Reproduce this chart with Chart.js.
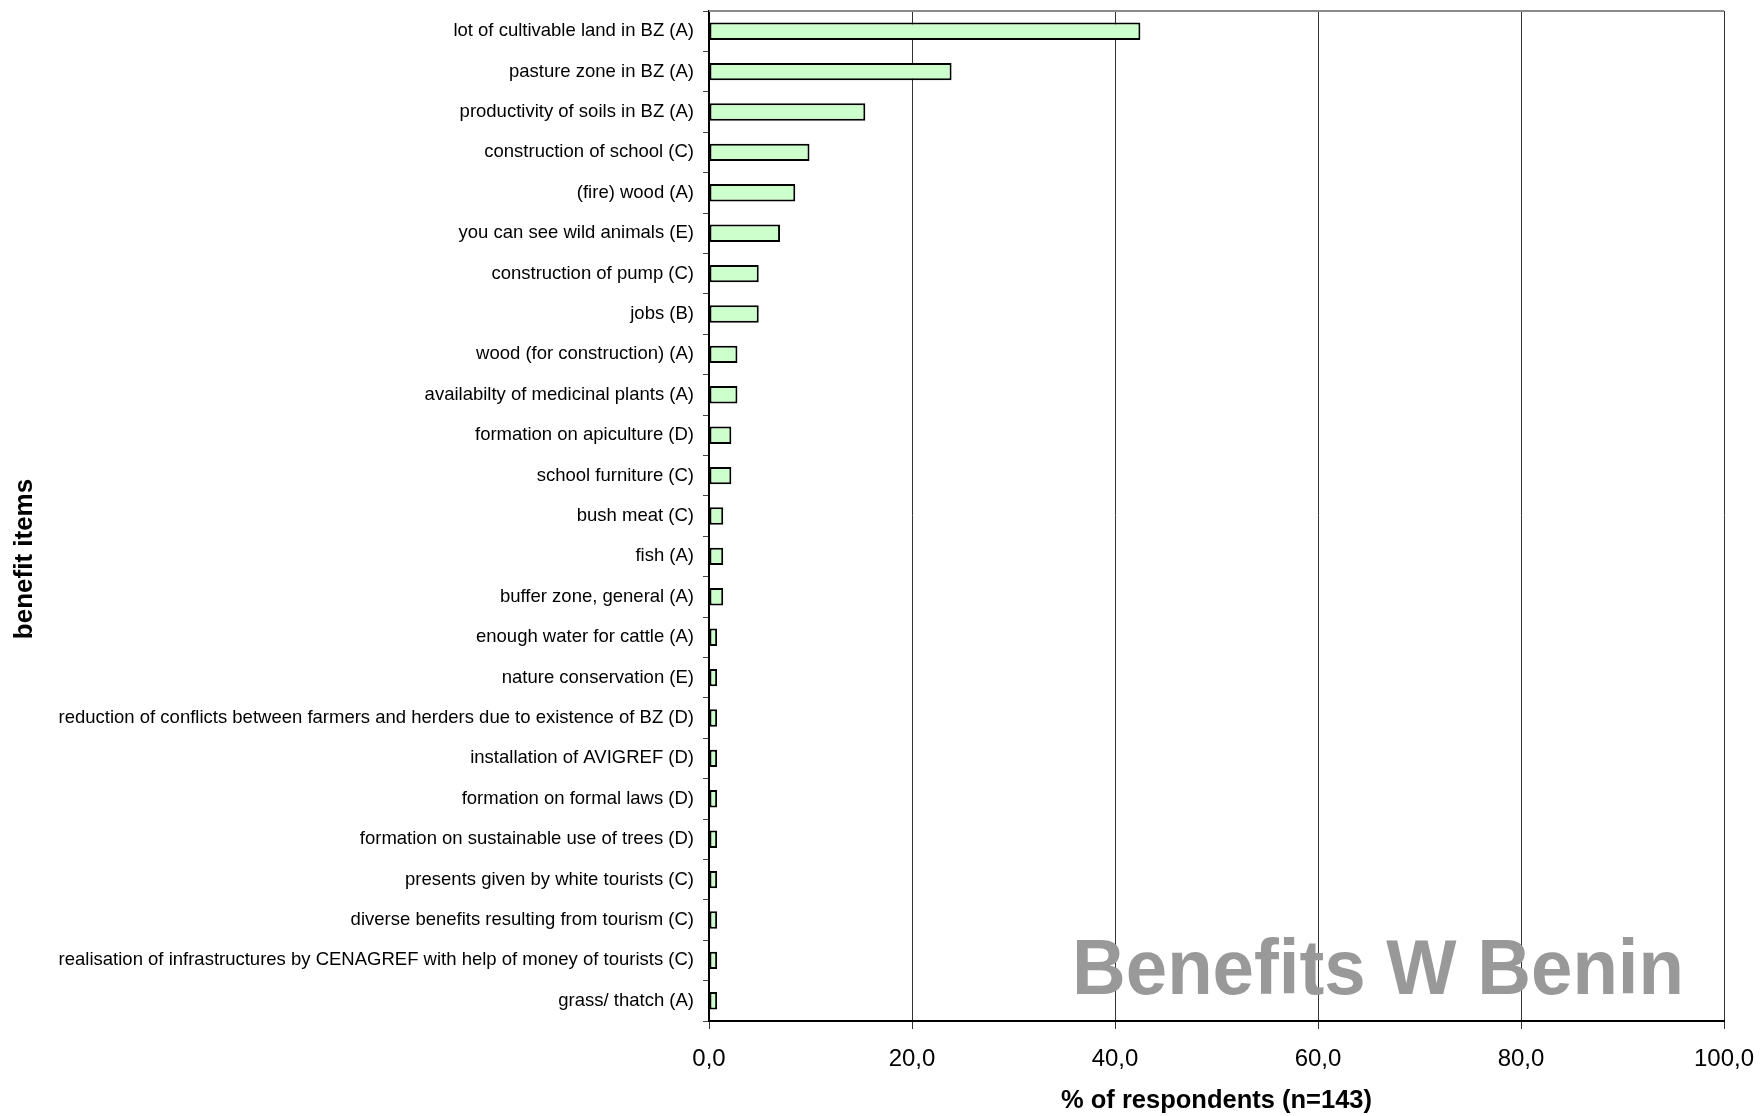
<!DOCTYPE html>
<html>
<head>
<meta charset="utf-8">
<title>Benefits W Benin</title>
<script src="https://cdn.jsdelivr.net/npm/chart.js@4.4.1/dist/chart.umd.min.js"></script>
<style>
  html, body { margin: 0; padding: 0; background: #fff; }
  #wrap { width: 1760px; height: 1116px; position: relative; }
</style>
</head>
<body>
<div id="wrap"><canvas id="chart"></canvas></div>
<script>
// Benefit items named by respondents (category letter in brackets)
const categories = [
  "lot of cultivable land in BZ (A)",
  "pasture zone in BZ (A)",
  "productivity of soils in BZ (A)",
  "construction of school (C)",
  "(fire) wood (A)",
  "you can see wild animals (E)",
  "construction of pump (C)",
  "jobs (B)",
  "wood (for construction) (A)",
  "availabilty of medicinal plants (A)",
  "formation on apiculture (D)",
  "school furniture (C)",
  "bush meat (C)",
  "fish (A)",
  "buffer zone, general (A)",
  "enough water for cattle (A)",
  "nature conservation (E)",
  "reduction of conflicts between farmers and herders due to existence of BZ (D)",
  "installation of AVIGREF (D)",
  "formation on formal laws (D)",
  "formation on sustainable use of trees (D)",
  "presents given by white tourists (C)",
  "diverse benefits resulting from tourism (C)",
  "realisation of infrastructures by CENAGREF with help of money of tourists (C)",
  "grass/ thatch (A)"
];

// Share of respondents (%) naming each item, n = 143
const percentRespondents = [
  42.5, 23.9, 15.4, 9.9, 8.5, 7.0, 4.9, 4.9, 2.8, 2.8,
  2.2, 2.2, 1.4, 1.4, 1.4, 0.8, 0.8, 0.8, 0.8, 0.8,
  0.8, 0.8, 0.8, 0.8, 0.8
];

// Value axis ticks
const xTicks = [0, 20, 40, 60, 80, 100];

const chartTitle = "Benefits W Benin";
const xAxisTitle = "% of respondents (n=143)";
const yAxisTitle = "benefit items";

const FONT = "'Liberation Sans', Arial, Helvetica, sans-serif";

// Top frame line, the large caption inside the plot and the category axis title
const framePlugin = {
  id: 'frameAndCaption',
  afterDatasetsDraw(chart) {
    const { ctx, chartArea } = chart;
    ctx.save();
    ctx.strokeStyle = '#8a8a8a';
    ctx.lineWidth = 2;
    ctx.beginPath();
    ctx.moveTo(chartArea.left, chartArea.top);
    ctx.lineTo(chartArea.right, chartArea.top);
    ctx.stroke();

    ctx.fillStyle = '#999999';
    ctx.font = "bold 78px " + FONT;
    ctx.textAlign = 'center';
    ctx.textBaseline = 'alphabetic';
    ctx.fillText(chartTitle, chartArea.right - 346, chartArea.bottom - 27, 612);
    ctx.restore();
  },
  afterDraw(chart) {
    const { ctx, chartArea } = chart;
    ctx.save();
    ctx.fillStyle = '#000';
    ctx.font = "bold 26px " + FONT;
    ctx.textAlign = 'center';
    ctx.textBaseline = 'middle';
    ctx.translate(25, chartArea.bottom - 462);
    ctx.rotate(-Math.PI / 2);
    ctx.fillText(yAxisTitle, 0, 0);
    ctx.restore();
  }
};

new Chart(document.getElementById('chart'), {
  type: 'bar',
  data: {
    labels: categories,
    datasets: [{
      data: percentRespondents,
      backgroundColor: '#CCFFCC',
      borderColor: '#000000',
      borderWidth: 2,
      borderSkipped: false,
      barPercentage: 0.43,
      categoryPercentage: 1.0
    }]
  },
  options: {
    indexAxis: 'y',
    responsive: true,
    maintainAspectRatio: false,
    animation: false,
    layout: { padding: { top: 11, right: 36, left: 0, bottom: 0 } },
    plugins: {
      legend: { display: false },
      tooltip: { enabled: false }
    },
    scales: {
      x: {
        min: xTicks[0],
        max: xTicks[xTicks.length - 1],
        afterBuildTicks(scale) {
          scale.ticks = xTicks.map(v => ({ value: v }));
        },
        afterFit(scale) {
          scale.height = 95;
          scale.paddingLeft = 0;
          scale.paddingRight = 0;
        },
        ticks: {
          color: '#000',
          font: { family: FONT, size: 24 },
          padding: 16,
          callback: v => Number(v).toFixed(1).replace('.', ',')
        },
        grid: {
          color: '#333333',
          lineWidth: 1,
          tickLength: 8,
          drawOnChartArea: true
        },
        border: { color: '#000', width: 2 },
        title: {
          display: true,
          text: xAxisTitle,
          color: '#000',
          font: { family: FONT, size: 25.5, weight: 'bold' },
          padding: { top: 0, bottom: 0 }
        }
      },
      y: {
        afterFit(scale) {
          scale.width = 709;
          scale.paddingTop = 0;
          scale.paddingBottom = 0;
        },
        ticks: {
          color: '#000',
          font: { family: FONT, size: 18.5 },
          padding: 9,
          autoSkip: false
        },
        grid: {
          offset: true,
          drawOnChartArea: false,
          color: '#444',
          tickLength: 6
        },
        border: { color: '#000', width: 2 }
      }
    }
  },
  plugins: [framePlugin]
});
</script>
</body>
</html>
